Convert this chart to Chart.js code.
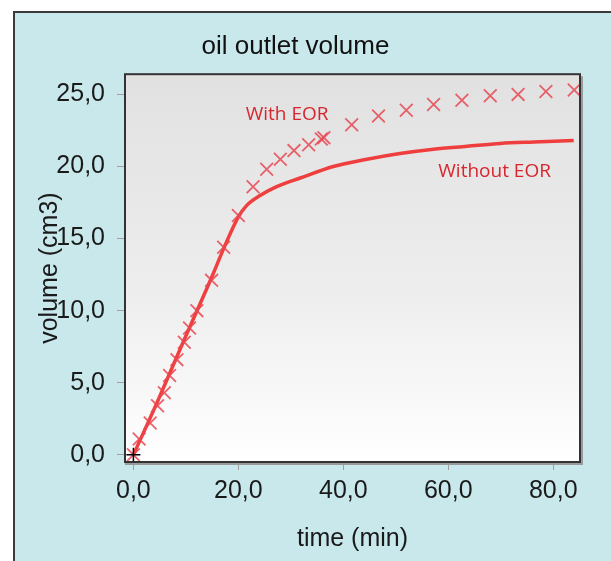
<!DOCTYPE html>
<html>
<head>
<meta charset="utf-8">
<title>oil outlet volume</title>
<script src="https://cdn.jsdelivr.net/npm/chart.js@4.4.1/dist/chart.umd.min.js"></script>
<style>
  html, body { margin: 0; padding: 0; background: #fff; overflow: hidden; }
  #frame {
    position: absolute; left: 13px; top: 11px; width: 620px; height: 570px;
    background: #c9e8ec; border-left: 2px solid #3a3a3a; border-top: 2px solid #3a3a3a;
  }
  #chart { position: absolute; left: 0; top: 0; }
</style>
</head>
<body>
<div id="frame"></div>
<canvas id="chart" width="611" height="561"></canvas>
<script>
// values: time in min, volume in cm3
const withEorTime = [0, 1.1, 3.2, 4.6, 5.9, 6.9, 8.3, 9.7, 10.7, 12.1, 14.9, 17.2, 20.0, 22.8,
    25.4, 28.0, 30.6, 33.4, 35.8, 36.3, 41.6, 46.7, 52.0, 57.2, 62.6, 68.0, 73.3, 78.6, 84.0];
const withEorVolume = [0, 1.1, 2.2, 3.4, 4.3, 5.5, 6.6, 7.8, 8.8, 10.0, 12.1, 14.4, 16.6, 18.6,
    19.8, 20.5, 21.1, 21.5, 21.9, 22.0, 22.9, 23.5, 23.9, 24.3, 24.6, 24.9, 25.0, 25.2, 25.3];
const withoutEorTime = [0, 4.6, 9.7, 14.9, 17.2, 20.0, 21.6, 24.2, 27.3, 31.8, 38.1, 44.5,
    50.8, 57.2, 63.6, 69.9, 76.3, 83.9];
const withoutEorVolume = [0, 3.7, 8.0, 12.3, 14.3, 16.5, 17.3, 18.0, 18.6, 19.2, 20.0, 20.5,
    20.9, 21.2, 21.4, 21.6, 21.7, 21.8];
const originTime = [0];
const originVolume = [0];

const xTicks = [0, 20, 40, 60, 80];
const yTicks = [0, 5, 10, 15, 20, 25];

const curveNames = ['With EOR', 'Without EOR'];
const curveNameTime = [21.4, 58.1];
const curveNameVolume = [23.2, 19.3];

function toPoints(xs, ys) {
    return xs.map((x, i) => ({ x: x, y: ys[i] }));
}

function fmt(v) {
    return v.toFixed(1).replace('.', ',');
}

const plotFrame = {
    id: 'plotFrame',
    beforeDatasetsDraw(chart) {
        const { ctx, chartArea: a } = chart;
        const g = ctx.createLinearGradient(0, a.top, 0, a.bottom);
        g.addColorStop(0, '#e1e1e1');
        g.addColorStop(0.55, '#ededed');
        g.addColorStop(1, '#ffffff');
        ctx.save();
        ctx.fillStyle = g;
        ctx.fillRect(a.left, a.top, a.right - a.left, a.bottom - a.top);
        ctx.restore();
    },
    afterDatasetsDraw(chart) {
        const { ctx, chartArea: a, scales } = chart;
        ctx.save();
        ctx.strokeStyle = '#9a9a9a';
        ctx.lineWidth = 2;
        ctx.beginPath();
        ctx.moveTo(a.left, a.bottom + 2);
        ctx.lineTo(a.right + 2, a.bottom + 2);
        ctx.lineTo(a.right + 2, a.top + 2);
        ctx.stroke();
        ctx.strokeStyle = '#333';
        ctx.lineWidth = 2;
        ctx.strokeRect(a.left, a.top, a.right - a.left, a.bottom - a.top);

        // curve names
        ctx.fillStyle = '#d8262e';
        ctx.font = '19px "Open Sans"';
        ctx.textAlign = 'left';
        ctx.textBaseline = 'alphabetic';
        curveNames.forEach((name, i) => {
            ctx.fillText(name, scales.x.getPixelForValue(curveNameTime[i]),
                scales.y.getPixelForValue(curveNameVolume[i]));
        });
        ctx.restore();
    }
};

const tickFont = { family: '"Liberation Sans", Arial, sans-serif', size: 25 };

new Chart(document.getElementById('chart').getContext('2d'), {
    type: 'scatter',
    data: {
        datasets: [{
            label: 'origin',
            data: toPoints(originTime, originVolume),
            pointStyle: 'cross',
            pointRadius: 7,
            borderColor: '#000',
            borderWidth: 1.5,
            order: 0
        }, {
            label: 'With EOR',
            data: toPoints(withEorTime, withEorVolume),
            pointStyle: 'crossRot',
            pointRadius: 9,
            borderColor: 'rgba(232,72,82,0.85)',
            backgroundColor: 'rgba(232,72,82,0.85)',
            borderWidth: 1.8,
            order: 1
        }, {
            label: 'Without EOR',
            data: toPoints(withoutEorTime, withoutEorVolume),
            showLine: true,
            cubicInterpolationMode: 'monotone',
            pointRadius: 0,
            borderColor: 'rgba(240,48,48,0.92)',
            borderWidth: 3.5,
            order: 2
        }]
    },
    options: {
        responsive: false,
        animation: false,
        layout: {
            padding: { left: 11, right: 31, top: 0, bottom: 0 }
        },
        scales: {
            x: {
                type: 'linear',
                min: -1.6,
                max: 85.1,
                afterBuildTicks: scale => { scale.ticks = xTicks.map(v => ({ value: v })); },
                afterFit: scale => { scale.height = 99; },
                border: { display: false },
                grid: { drawOnChartArea: false, drawTicks: true, tickLength: 8, color: '#a0a0a0' },
                ticks: { font: tickFont, color: '#1a1a1a', padding: 6, callback: v => fmt(v) },
                title: {
                    display: true,
                    text: 'time (min)',
                    font: tickFont,
                    color: '#1a1a1a',
                    padding: { top: 0, bottom: 7 }
                }
            },
            y: {
                type: 'linear',
                min: -0.5,
                max: 26.4,
                afterBuildTicks: scale => { scale.ticks = yTicks.map(v => ({ value: v })); },
                afterFit: scale => { scale.width = 114; },
                border: { display: false },
                grid: { drawOnChartArea: false, drawTicks: true, tickLength: 8, color: '#a0a0a0' },
                ticks: { font: tickFont, color: '#1a1a1a', padding: 12, callback: v => fmt(v) },
                title: {
                    display: true,
                    text: 'volume (cm3)',
                    font: tickFont,
                    color: '#1a1a1a',
                    padding: { top: 24, bottom: 0 }
                }
            }
        },
        plugins: {
            legend: { display: false },
            tooltip: { enabled: false },
            title: {
                display: true,
                text: 'oil outlet volume',
                font: { family: '"Liberation Sans", Arial, sans-serif', size: 26, weight: 'normal' },
                color: '#111',
                padding: { top: 31, bottom: 12 }
            }
        }
    },
    plugins: [plotFrame]
});
</script>
</body>
</html>
